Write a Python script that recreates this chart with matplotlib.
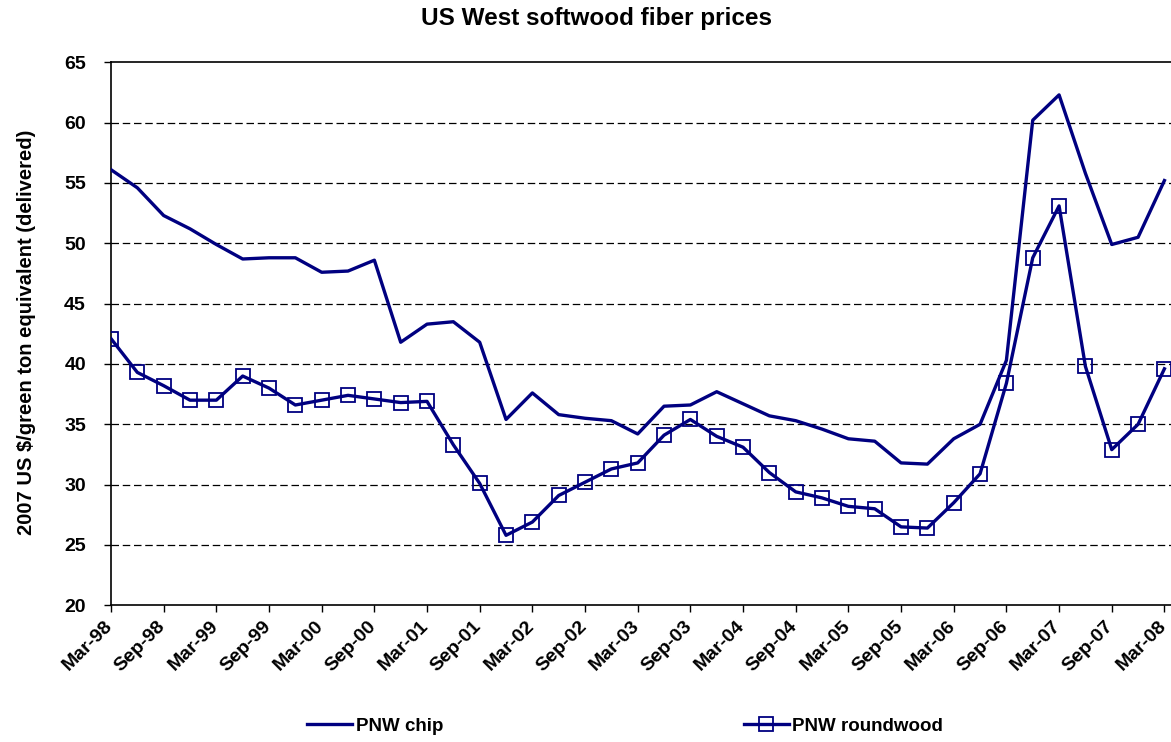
import numpy as np
import matplotlib
matplotlib.use("Agg")
import matplotlib.pyplot as plt

plt.rcParams["font.family"] = ["Liberation Sans", "DejaVu Sans"]
plt.rcParams["font.weight"] = "bold"

# quarterly series, Mar-98 .. Mar-08
chip = [56.1, 54.6, 52.3, 51.2, 49.9, 48.7, 48.8, 48.8, 47.6, 47.7,
        48.6, 41.8, 43.3, 43.5, 41.8, 35.4, 37.6, 35.8, 35.5, 35.3,
        34.2, 36.5, 36.6, 37.7, 36.7, 35.7, 35.3, 34.6, 33.8, 33.6,
        31.8, 31.7, 33.8, 35.0, 40.3, 60.2, 62.3, 55.8, 49.9, 50.5, 55.2]
roundwood = [42.1, 39.3, 38.2, 37.0, 37.0, 39.0, 38.0, 36.6, 37.0, 37.4,
             37.1, 36.8, 36.9, 33.3, 30.1, 25.8, 26.9, 29.1, 30.2, 31.3,
             31.8, 34.1, 35.4, 34.0, 33.1, 31.0, 29.4, 28.9, 28.2, 28.0,
             26.5, 26.4, 28.5, 30.9, 38.4, 48.8, 53.1, 39.8, 32.9, 35.0, 39.6]
tick_labels = ["Mar-98", "Sep-98", "Mar-99", "Sep-99", "Mar-00", "Sep-00",
               "Mar-01", "Sep-01", "Mar-02", "Sep-02", "Mar-03", "Sep-03",
               "Mar-04", "Sep-04", "Mar-05", "Sep-05", "Mar-06", "Sep-06",
               "Mar-07", "Sep-07", "Mar-08"]

navy = "#000080"

fig = plt.figure(figsize=(11.71, 7.42), dpi=100)
ax = fig.add_axes([111 / 1171, 1 - 605.3 / 742, 1060 / 1171, (605.3 - 62.3) / 742])

x = np.arange(len(chip))
ax.plot(x, chip, color=navy, lw=2.4, label="PNW chip", zorder=3)
ax.plot(x, roundwood, color=navy, lw=2.4, marker="s", markersize=10,
        markerfacecolor="none", markeredgecolor=navy, markeredgewidth=1.3,
        label="PNW roundwood", zorder=3)

ax.set_xlim(0, 40.25)
ax.set_ylim(20, 65)
ax.set_yticks(np.arange(20, 66, 5))
ticks = np.arange(0, len(chip), 2)
ax.set_xticks(ticks)
ax.set_xticklabels([])
# slanted date labels, nudged left of their ticks
for pos, lab in zip(ticks, tick_labels):
    ax.annotate(lab, xy=(pos, 0), xycoords=("data", "axes fraction"),
                xytext=(-5, -9), textcoords="offset points", rotation=45,
                ha="right", va="top", rotation_mode="anchor",
                fontsize=14, fontweight="bold", annotation_clip=False)
for lbl in ax.get_yticklabels():
    lbl.set_fontsize(14)
    lbl.set_fontweight("bold")
ax.tick_params(axis="both", direction="out", length=5, width=1, color="black")
ax.tick_params(axis="y", pad=13)

for v in range(25, 65, 5):
    ax.axhline(v, color="black", lw=0.9, ls=(0, (6, 3)), zorder=1)

for side in ["left", "bottom", "top"]:
    ax.spines[side].set_linewidth(1.2)
ax.spines["right"].set_visible(False)

ax.set_ylabel("2007 US $/green ton equivalent (delivered)", fontsize=14.5,
              fontweight="bold", va="center")
ax.yaxis.set_label_coords((27 - 111) / 1060, (605.3 - 332) / 543)

fig.text(0.509, 1 - 19 / 742, "US West softwood fiber prices", ha="center",
         va="center", fontsize=17.5, fontweight="bold")

fig.legend(loc="center", bbox_to_anchor=(0.534, 1 - 726 / 742), ncol=2,
           frameon=False, fontsize=13.5, handlelength=2.4, handletextpad=0.2,
           columnspacing=16)

fig.savefig("out.png", dpi=100)
